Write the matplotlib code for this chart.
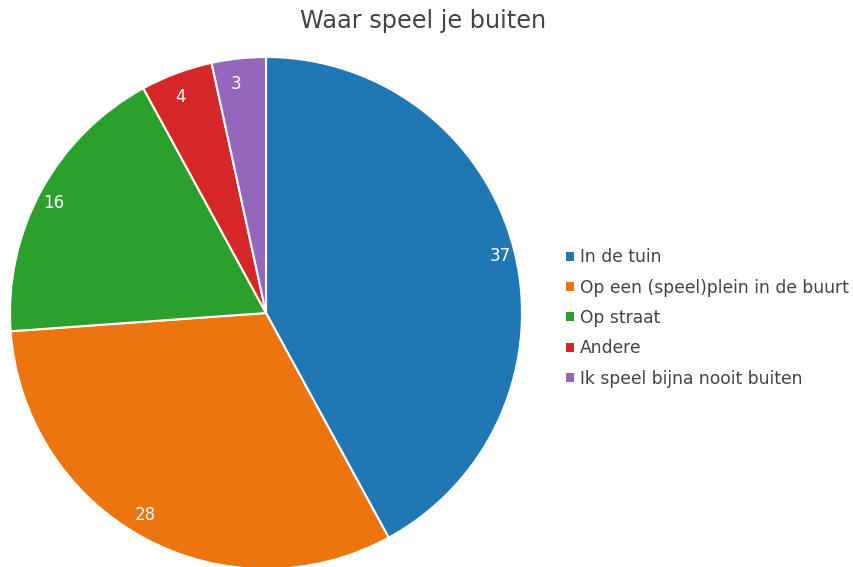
import matplotlib.pyplot as plt
from matplotlib.patches import Patch

labels = ['In de tuin', 'Op een (speel)plein in de buurt', 'Op straat', 'Andere',
          'Ik speel bijna nooit buiten']
values = [37, 28, 16, 4, 3]
colors = ['#1f77b4', '#ec750f', '#2ca02c', '#d62728', '#9467bd']

fig = plt.figure(figsize=(8.54, 5.67), dpi=100)
ax = fig.add_axes([10 / 854, -2 / 567, 512 / 854, 512 / 567])

wedges, texts = ax.pie(values, colors=colors, startangle=90, counterclock=False,
                       labels=[str(v) for v in values], labeldistance=0.9,
                       wedgeprops=dict(edgecolor='white', linewidth=1.5),
                       textprops=dict(color='white', fontsize=12))
ax.set_aspect('equal')
ax.set_xlim(-1, 1)
ax.set_ylim(-1, 1)

fig.text(423 / 854, 1 - 21 / 567, 'Waar speel je buiten', ha='center', va='center',
         fontsize=17.3, color='#444444')

handles = [Patch(facecolor=c, edgecolor='none') for c in colors]
fig.legend(handles, labels, loc='upper left', bbox_to_anchor=(551 / 854, 1 - 233 / 567),
           frameon=False, fontsize=12.3, labelcolor='#444444', handlelength=0.45,
           handleheight=0.45, handletextpad=0.35, labelspacing=0.72)

fig.savefig('out.png', dpi=100)
